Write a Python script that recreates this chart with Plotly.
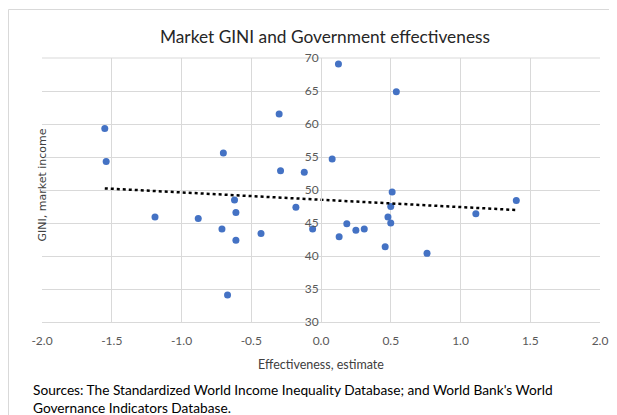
import numpy as np
import plotly.graph_objects as go

# ======================================
# DATA
# ======================================

effectiveness = [
    -1.55, -1.54, -1.19, -0.88, -0.70, -0.71, -0.67, -0.62, -0.61, -0.61,
    -0.43, -0.30, -0.29, -0.12, -0.18, -0.06, 0.08, 0.13, 0.125, 0.54,
    0.185, 0.25, 0.31, 0.46, 0.48, 0.50, 0.50, 0.51, 0.76, 1.11, 1.40,
]

gini_market = [
    59.3, 54.3, 45.9, 45.7, 55.6, 44.1, 34.1, 48.5, 46.6, 42.4,
    43.4, 61.5, 52.9, 52.7, 47.4, 44.1, 54.7, 42.9, 69.1, 64.9,
    44.9, 43.9, 44.1, 41.4, 45.9, 45.0, 47.5, 49.7, 40.4, 46.4, 48.4,
]

x_ticks = [-2.0, -1.5, -1.0, -0.5, 0.0, 0.5, 1.0, 1.5, 2.0]
y_ticks = [30, 35, 40, 45, 50, 55, 60, 65, 70]

FONT = "Lato, Open Sans, sans-serif"

# linear trend line over the data range
slope, intercept = np.polyfit(effectiveness, gini_market, 1)
trend_x = np.array([min(effectiveness), max(effectiveness)])
trend_y = slope * trend_x + intercept

# ======================================
# LAYOUT GEOMETRY (page pixels, page has an 8px body margin)
# ======================================

OFF = 8
W, H = 617 - OFF, 415 - OFF
PLOT_L, PLOT_R, PLOT_T, PLOT_B = 42 - OFF, 600 - OFF, 58 - OFF, 322 - OFF


def px_x(p):
    return (p - OFF - PLOT_L) / (PLOT_R - PLOT_L)


def px_y(p):
    return (PLOT_B - (p - OFF)) / (PLOT_B - PLOT_T)


# ======================================
# FIGURE
# ======================================

fig = go.Figure()

fig.add_trace(
    go.Scatter(
        x=effectiveness,
        y=gini_market,
        mode="markers",
        marker=dict(color="#4472C4", size=7),
        showlegend=False,
    )
)

fig.add_trace(
    go.Scatter(
        x=trend_x,
        y=trend_y,
        mode="lines",
        line=dict(color="black", width=2.5, dash="dot"),
        showlegend=False,
    )
)

fig.update_layout(
    width=W,
    height=H,
    margin=dict(l=PLOT_L, r=W - PLOT_R, t=PLOT_T, b=H - PLOT_B, autoexpand=False),
    paper_bgcolor="white",
    plot_bgcolor="white",
    font=dict(family=FONT, color="#595959", size=12),
    title=dict(
        text="Market GINI and Government effectiveness",
        x=px_x(325),
        xref="paper",
        xanchor="center",
        y=1 - (37 - OFF) / H,
        yanchor="middle",
        font=dict(family=FONT, size=17.3, color="#262626"),
    ),
    xaxis=dict(
        range=[-2, 2],
        tickvals=x_ticks,
        ticktext=[f"{v:.1f}" for v in x_ticks],
        showgrid=True,
        gridcolor="#d9d9d9",
        gridwidth=1,
        zeroline=False,
        showline=True,
        linecolor="#d9d9d9",
        ticks="",
        ticklabelstandoff=8,
        tickfont=dict(size=12, color="#595959"),
        title=dict(
            text="Effectiveness, estimate",
            font=dict(size=12.5, color="#404040"),
            standoff=12,
        ),
    ),
    yaxis=dict(
        range=[30, 70],
        tickvals=y_ticks,
        showgrid=True,
        gridcolor="#d9d9d9",
        gridwidth=1,
        zeroline=False,
        showline=True,
        linecolor="#d9d9d9",
        anchor="free",
        position=0.5,
        ticks="",
        tickfont=dict(size=12, color="#595959"),
    ),
    shapes=[
        dict(
            type="rect",
            xref="paper",
            yref="paper",
            x0=px_x(8.5),
            x1=px_x(640),
            y0=px_y(440),
            y1=px_y(9.5),
            line=dict(color="#d9d9d9", width=1),
            fillcolor="rgba(0,0,0,0)",
            layer="below",
        ),
        dict(
            type="line",
            xref="paper",
            yref="paper",
            x0=0,
            x1=1,
            y0=1,
            y1=1,
            line=dict(color="#d9d9d9", width=1),
            layer="below",
        ),
    ],
    annotations=[
        dict(
            text="GINI, market income",
            xref="paper",
            yref="paper",
            x=px_x(33),
            y=px_y(185),
            textangle=-90,
            showarrow=False,
            font=dict(family="DejaVu Sans, sans-serif", size=11, color="#404040"),
        ),
        dict(
            text="Sources: The Standardized World Income Inequality Database; and World Bank's World<br>Governance Indicators Database.",
            xref="paper",
            yref="paper",
            x=px_x(31),
            y=px_y(379),
            xanchor="left",
            yanchor="top",
            align="left",
            showarrow=False,
            font=dict(size=13.7, color="black"),
        ),
    ],
)

fig.write_html("out.html")
